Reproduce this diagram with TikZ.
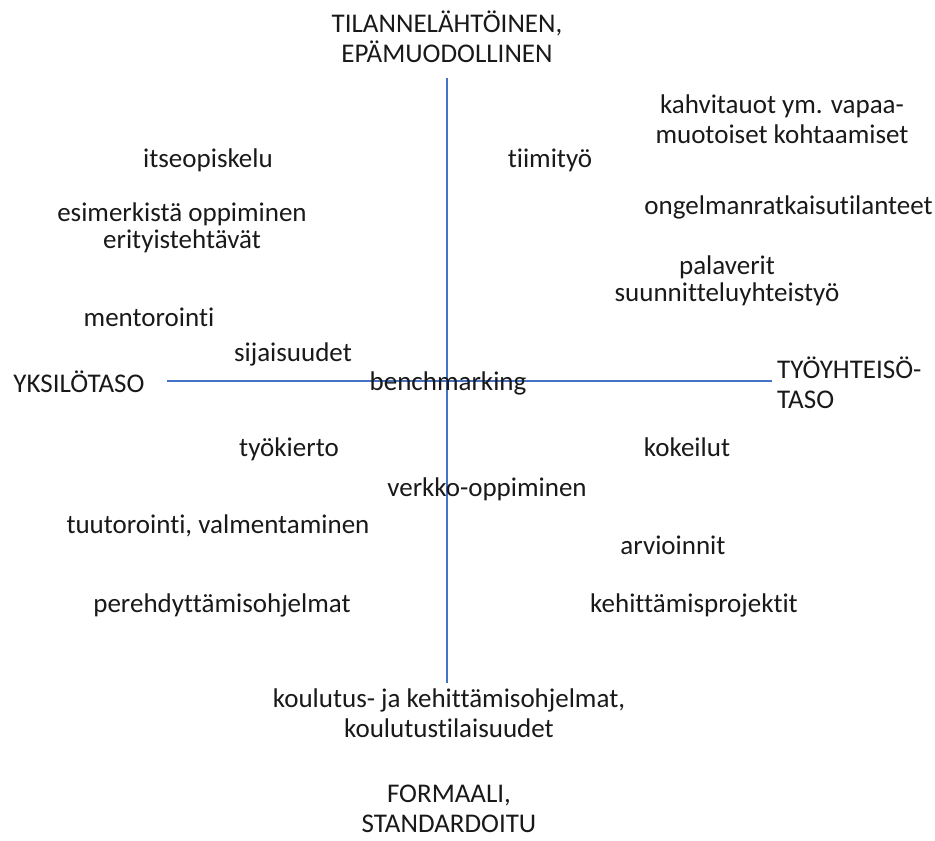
\documentclass[tikz,border=0pt]{standalone}
\usepackage{fontspec}
\setmainfont{Carlito}[Ligatures=NoCommon]
\definecolor{axisblue}{RGB}{68,114,196}
\definecolor{txtgray}{RGB}{25,25,25}
\usetikzlibrary{positioning}

\begin{document}
\begin{tikzpicture}[x=1pt, y=-1pt, font=\fontsize{27}{30}\selectfont, text=txtgray,
    lbl/.style={inner sep=0pt, align=center},
    tight/.style={lbl, font=\fontsize{27}{27}\selectfont},
    axis/.style={axisblue, line width=2pt}]
        \useasboundingbox (0,0) rectangle (935,841);
        % axes
        \coordinate (top) at (447,78);
        \coordinate (bot) at (447,683);
        \coordinate (lft) at (167,381);
        \coordinate (rgt) at (772,381);
        \draw[axis] (top) -- (bot);
        \draw[axis] (lft) -- (rgt);
        % axis ends
        \node[lbl] (informal) at (447,37) {TILANNELÄHTÖINEN,\\EPÄMUODOLLINEN};
        \node[lbl, anchor=base] (formal) at (449,832) {FORMAALI,\\STANDARDOITU};
        \node[lbl] (indiv) at (79,382) {YKSILÖTASO};
        \node[lbl, anchor=west, align=left] (commun) at (777,383) {TYÖYHTEISÖ-\\TASO};
        % upper left
        \node[lbl] (itse) at (208,160) {itseopiskelu};
        \node[tight] (esim) at (182,228) {esimerkistä oppiminen\\erityistehtävät};
        \node[lbl] (mento) at (149,317) {mentorointi};
        \node[lbl] (sija) at (293,354) {sijaisuudet};
        % upper right
        \node[lbl] (kahvi) at (782,119) {kahvitauot ym. vapaa-\\muotoiset kohtaamiset};
        \node[lbl] (tiimi) at (550,160) {tiimityö};
        \node[lbl, anchor=east] (ongel) at (933,207) {ongelmanratkaisutilanteet};
        \node[tight] (pala) at (727,281) {palaverit\\suunnitteluyhteistyö};
        % centre
        \node[lbl] (bench) at (448,383) {benchmarking};
        \node[lbl] (verkko) at (487,489) {verkko-oppiminen};
        % lower left
        \node[lbl] (kierto) at (289,449) {työkierto};
        \node[lbl] (tuuto) at (218,526) {tuutorointi, valmentaminen};
        \node[lbl] (pereh) at (222,605) {perehdyttämisohjelmat};
        % lower right
        \node[lbl] (kokeil) at (687,447) {kokeilut};
        \node[lbl] (arvio) at (673,545) {arvioinnit};
        \node[lbl] (kehit) at (694,605) {kehittämisprojektit};
        \node[lbl] (koulu) at (449,713) {koulutus- ja kehittämisohjelmat,\\koulutustilaisuudet};
      \end{tikzpicture}
\end{document}
